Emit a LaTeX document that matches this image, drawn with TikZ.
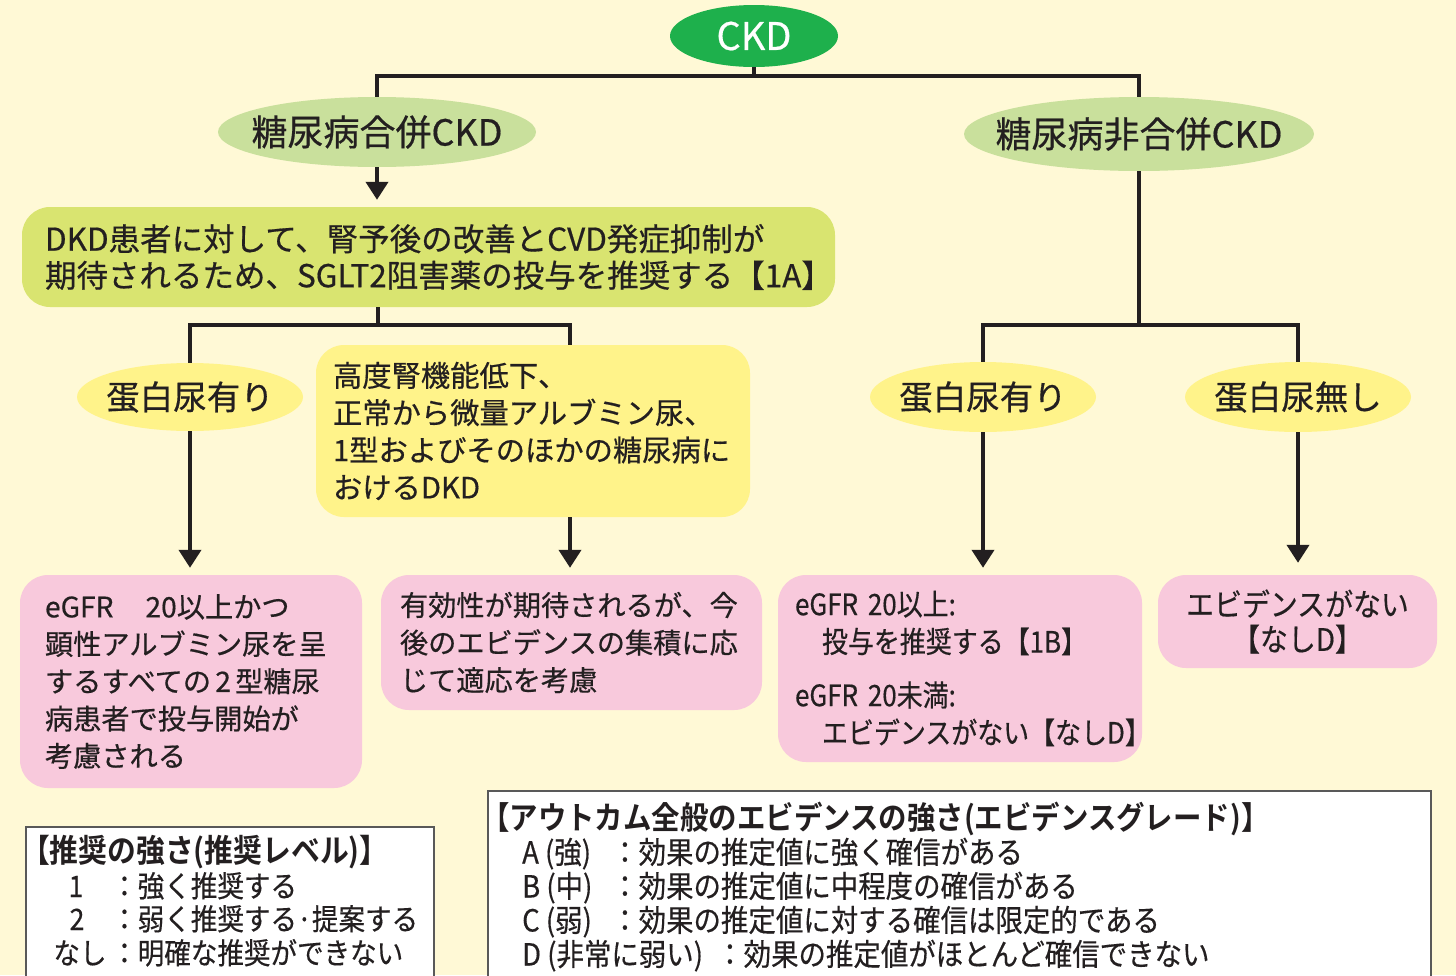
\documentclass[tikz,border=0pt]{standalone}
\usepackage{fontspec}
\setmainfont{Noto Sans CJK JP}[FakeBold=0.5]
\newfontfamily\jpc[FakeStretch=0.88,FakeBold=0.5]{Noto Sans CJK JP}
\newfontfamily\jpl[FakeStretch=0.9,FakeBold=0.4]{Noto Sans CJK JP}
\newfontfamily\jpt[FakeStretch=0.9]{Noto Sans CJK JP Bold}
\usetikzlibrary{arrows.meta,shapes.geometric}
\definecolor{bgc}{RGB}{255,249,214}
\definecolor{ckdg}{RGB}{30,176,76}
\definecolor{lgreen}{RGB}{201,224,156}
\definecolor{ygreen}{RGB}{217,228,112}
\definecolor{lyellow}{RGB}{255,243,138}
\definecolor{pinkc}{RGB}{248,201,220}
\definecolor{txt}{RGB}{35,31,32}
\begin{document}
\begin{tikzpicture}[x=1pt,y=-1pt,
  oval/.style={ellipse, inner sep=0pt},
  otext/.style={text=txt, inner sep=0pt},
  rbox/.style={rectangle, rounded corners=28pt, inner ysep=0pt, align=left, text=txt},
  conn/.style={line width=4pt, draw=txt},
  arr/.style={conn, -{Triangle[width=22pt,length=18pt]}, shorten >=7pt},
  legend/.style={draw=black!65, line width=1.5pt, fill=white},
  lt/.style={anchor=base west, inner sep=0pt, text=txt}
]
\useasboundingbox (0,0) rectangle (1456,975);
\clip (0,0) rectangle (1456,975);
\fill[bgc] (0,0) rectangle (1456,975);

% top
\node[oval, fill=ckdg, minimum width=168pt, minimum height=62pt] (ckd) at (754,36) {};
\node[text=white, inner sep=0pt, font=\fontsize{38}{40}\selectfont] (ckdt) at (754,36) {CKD};

\node[oval, fill=lgreen, minimum width=318pt, minimum height=70pt] (dm) at (377,132) {};
\node[otext, font=\fontsize{36}{40}\selectfont] (dmt) at (377,132) {糖尿病合併CKD};
\node[oval, fill=lgreen, minimum width=350pt, minimum height=74pt] (ndm) at (1139,134) {};
\node[otext, font=\fontsize{36}{40}\selectfont] (ndmt) at (1139,134) {糖尿病非合併CKD};

% DKD box
\node[rbox, fill=ygreen, minimum height=100pt, inner xsep=23pt, text width=767pt,
      font=\fontsize{31.5}{36.5}\selectfont] (dkd) at (428.5,257)
  {DKD患者に対して、腎予後の改善とCVD発症抑制が\\期待されるため、SGLT2阻害薬の投与を推奨する【1A】};

% second level
\node[oval, fill=lyellow, minimum width=226pt, minimum height=68pt] (pl) at (190,397) {};
\node[otext, font=\fontsize{33.5}{38}\selectfont] (plt) at (190,397) {蛋白尿有り};
\node[rbox, fill=lyellow, minimum height=172pt, inner xsep=17pt, text width=400pt,
      font=\fontsize{29.3}{37.3}\selectfont] (yb) at (533,431)
  {高度腎機能低下、\\正常から微量アルブミン尿、\\1型およびそのほかの糖尿病に\\おけるDKD};
\node[oval, fill=lyellow, minimum width=226pt, minimum height=70pt] (pr) at (983,397) {};
\node[otext, font=\fontsize{33.5}{38}\selectfont] (prt) at (983,397) {蛋白尿有り};
\node[oval, fill=lyellow, minimum width=226pt, minimum height=70pt] (pn) at (1298,397) {};
\node[otext, font=\fontsize{33.5}{38}\selectfont] (pnt) at (1298,397) {蛋白尿無し};

% pink boxes
\node[rbox, fill=pinkc, minimum height=213pt, inner xsep=25pt, text width=292pt,
      font=\fontsize{28.2}{37.3}\selectfont] (p1) at (191,681.5)
  {eGFR~\hspace{0.8em}20以上かつ\\顕性アルブミン尿を呈\\するすべての\hspace{0.15em}2\hspace{0.15em}型糖尿\\病患者で投与開始が\\考慮される};
\node[rbox, fill=pinkc, minimum height=135pt, inner xsep=19pt, text width=343pt,
      font=\fontsize{28.2}{37.5}\selectfont] (p2) at (571.5,642.5)
  {有効性が期待されるが、今\\後のエビデンスの集積に応\\じて適応を考慮};
\node[rbox, fill=pinkc, minimum height=187pt, inner xsep=17pt, text width=330pt,
      font=\jpc\fontsize{29.5}{37.5}\selectfont] (p3) at (960,668.5)
  {eGFR 20以上:\\\hspace*{27pt}投与を推奨する【1B】\\[16pt]eGFR 20未満:\\\hspace*{27pt}エビデンスがない【なしD】};
\node[rbox, fill=pinkc, minimum height=93pt, inner xsep=10pt, text width=259pt, align=center,
      font=\jpl\fontsize{31}{35}\selectfont] (p4) at (1297.5,621.5)
  {エビデンスがない\\【なしD】};

% connectors
\coordinate (j1) at (754,76);
\draw[conn] (ckd.south) -- (j1);
\draw[conn] (dm.north) |- (j1) -| (ndm.north);
\draw[arr] (dm.south) -- (dm.south |- dkd.north);
\coordinate (j2) at (378,325);
\coordinate (j3) at (570,325);
\draw[conn] (j2 |- dkd.south) -- (j2);
\draw[conn] (pl.north) |- (j2) -- (j3) -- (j3 |- yb.north);
\coordinate (j4) at (1139,325);
\draw[conn] (ndm.south) -- (j4);
\draw[conn] (pr.north) |- (j4) -| (pn.north);
\draw[arr] (pl.south) -- (pl.south |- p1.north);
\draw[arr] (j3 |- yb.south) -- (j3 |- p2.north);
\draw[arr] (pr.south) -- (pr.south |- p3.north);
\draw[arr, shorten >=12pt] (pn.south) -- (pn.south |- p4.north);

% legend 1
\node[legend, minimum width=408pt, minimum height=170pt, anchor=north west] (leg1) at (25,826) {};
\node[lt, font=\jpt\fontsize{32}{34}\selectfont] (l1t) at (21,862) {【推奨の強さ(推奨レベル)】};
\node[lt, anchor=base, font=\jpl\fontsize{29.5}{34}\selectfont] (l1n1) at (76,897) {1};
\node[lt, font=\jpl\fontsize{29.5}{34}\selectfont] (l1c1) at (111,897) {：強く推奨する};
\node[lt, anchor=base, font=\jpl\fontsize{29.5}{34}\selectfont] (l1n2) at (77,930) {2};
\node[lt, font=\jpl\fontsize{29.5}{34}\selectfont] (l1c2) at (111,930) {：弱く推奨する·提案する};
\node[lt, anchor=base, font=\jpl\fontsize{29.5}{34}\selectfont] (l1n3) at (80,964) {なし};
\node[lt, font=\jpl\fontsize{29.5}{34}\selectfont] (l1c3) at (111,964) {：明確な推奨ができない};

% legend 2
\node[legend, minimum width=943pt, minimum height=200pt, anchor=north west] (leg2) at (487,790) {};
\node[lt, font=\jpt\fontsize{31.6}{34}\selectfont] (l2t) at (481,829) {【アウトカム全般のエビデンスの強さ(エビデンスグレード)】};
\node[lt, font=\jpl\fontsize{30.5}{34}\selectfont] (l2a) at (522,863.5) {A (強)};
\node[lt, font=\jpl\fontsize{30.5}{34}\selectfont] (l2at) at (611,863.5) {：効果の推定値に強く確信がある};
\node[lt, font=\jpl\fontsize{30.5}{34}\selectfont] (l2b) at (522,897.5) {B (中)};
\node[lt, font=\jpl\fontsize{30.5}{34}\selectfont] (l2bt) at (611,897.5) {：効果の推定値に中程度の確信がある};
\node[lt, font=\jpl\fontsize{30.5}{34}\selectfont] (l2c) at (522,931.5) {C (弱)};
\node[lt, font=\jpl\fontsize{30.5}{34}\selectfont] (l2ct) at (611,931.5) {：効果の推定値に対する確信は限定的である};
\node[lt, font=\jpl\fontsize{30.5}{34}\selectfont] (l2d) at (522,965.5) {D (非常に弱い)};
\node[lt, font=\jpl\fontsize{30.5}{34}\selectfont] (l2dt) at (716,965.5) {：効果の推定値がほとんど確信できない};
\end{tikzpicture}
\end{document}
